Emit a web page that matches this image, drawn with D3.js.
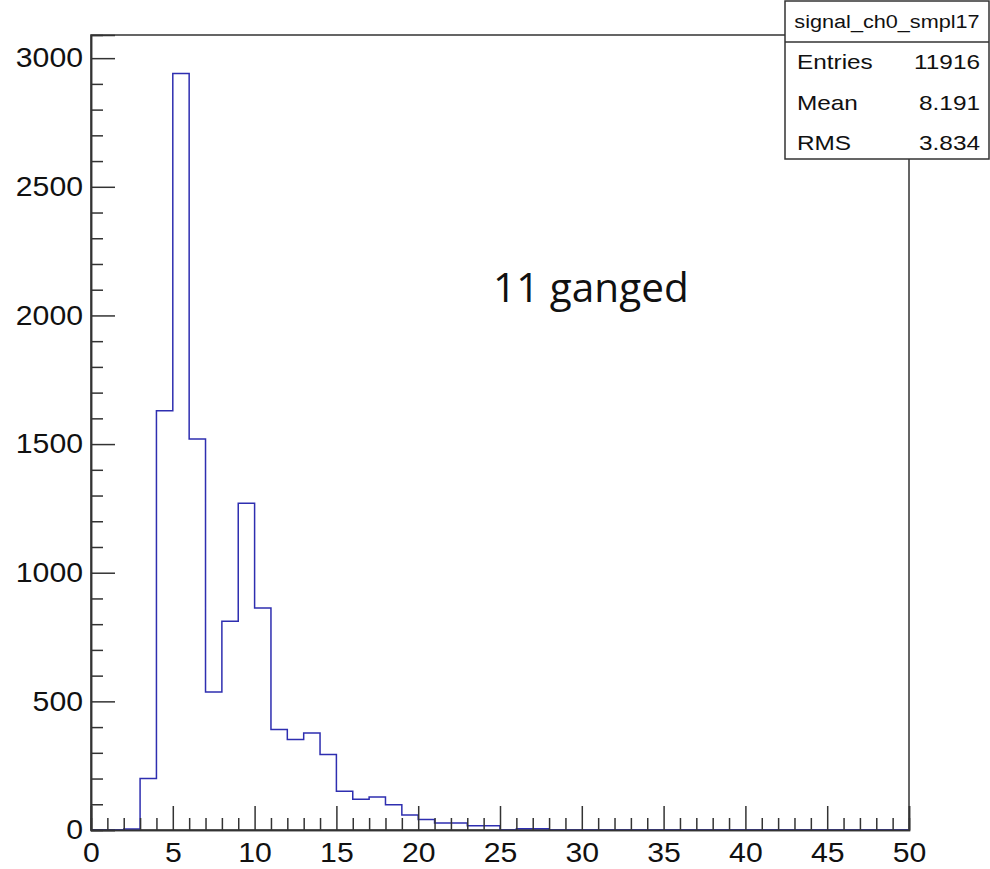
<!DOCTYPE html>
<meta charset="utf-8">
<html>
<head>
    <title>signal_ch0_smpl17</title>
    <style>
        body { margin: 0; background: #fff; }
        svg { display: block; }
        .axis text { font-family: "Liberation Sans", Arial, sans-serif; fill: #111; }
        .axis path, .axis line { stroke: #333; stroke-width: 1.5; }
        .stats text { font-family: "Liberation Sans", Arial, sans-serif; fill: #111; }
    </style>
    <script src="https://d3js.org/d3.v7.min.js"></script>
</head>
<body>
    <div id="chart"></div>
    <script>
        // histogram bins (lower edge) and counts
        var binLow = [0, 1, 2, 3, 4, 5, 6, 7, 8, 9,
            10, 11, 12, 13, 14, 15, 16, 17, 18, 19,
            20, 21, 22, 23, 24, 25, 26, 27, 28, 29,
            30, 31, 32, 33, 34, 35, 36, 37, 38, 39,
            40, 41, 42, 43, 44, 45, 46, 47, 48, 49];
        var counts = [0, 0, 4, 200, 1630, 2940, 1520, 536, 811, 1270,
            863, 391, 352, 377, 293, 151, 120, 128, 98, 58,
            41, 27, 27, 17, 17, 0, 5, 5, 0, 0,
            0, 0, 0, 0, 0, 0, 0, 0, 0, 0,
            0, 0, 0, 0, 0, 0, 0, 0, 0, 0];
        var binWidth = 1;

        var xMajor = [0, 5, 10, 15, 20, 25, 30, 35, 40, 45, 50];
        var xMinor = [1, 2, 3, 4, 6, 7, 8, 9, 11, 12, 13, 14, 16, 17, 18, 19,
            21, 22, 23, 24, 26, 27, 28, 29, 31, 32, 33, 34, 36, 37, 38, 39,
            41, 42, 43, 44, 46, 47, 48, 49];
        var yMajor = [0, 500, 1000, 1500, 2000, 2500, 3000];
        var yMinor = [100, 200, 300, 400, 600, 700, 800, 900, 1100, 1200, 1300, 1400,
            1600, 1700, 1800, 1900, 2100, 2200, 2300, 2400, 2600, 2700, 2800, 2900];

        var statsTitle = "signal_ch0_smpl17";
        var statsLabels = ["Entries", "Mean", "RMS"];
        var statsValues = ["11916", "8.191", "3.834"];
        var note = "11 ganged";

        var W = 990, H = 869;
        var frameL = 91, frameR = 909, frameT = 35, frameB = 830;
        var stretch = 1.12; // text in the picture is a bit wide

        var svg = d3.select("#chart").append("svg")
            .attr("width", W)
            .attr("height", H);

        var x = d3.scaleLinear().domain([0, 50]).range([frameL, frameR]);
        var y = d3.scaleLinear().domain([0, 3090]).range([frameB, frameT]);

        // frame
        svg.append("rect")
            .attr("x", frameL).attr("y", frameT)
            .attr("width", frameR - frameL).attr("height", frameB - frameT)
            .attr("fill", "none").attr("stroke", "#333").attr("stroke-width", 1.5);

        // histogram outline
        var pts = binLow.map(function (b, i) { return [b, counts[i]]; });
        pts.unshift([0, 0]);
        pts.push([binLow[binLow.length - 1] + binWidth, counts[counts.length - 1]]);
        pts.push([binLow[binLow.length - 1] + binWidth, 0]);
        var line = d3.line()
            .x(function (d) { return x(d[0]); })
            .y(function (d) { return y(d[1]); })
            .curve(d3.curveStepAfter);
        svg.append("path")
            .datum(pts)
            .attr("d", line)
            .attr("fill", "none")
            .attr("stroke", "#2e2eb0")
            .attr("stroke-width", 1.5);

        // axes
        svg.append("g").attr("class", "axis")
            .attr("transform", "translate(0," + frameB + ")")
            .call(d3.axisBottom(x).tickValues(xMajor).tickSize(-24).tickPadding(13).tickFormat(d3.format("d")));
        svg.append("g").attr("class", "axis")
            .attr("transform", "translate(0," + frameB + ")")
            .call(d3.axisBottom(x).tickValues(xMinor).tickSize(-12).tickFormat(""));
        var yAxis = svg.append("g").attr("class", "axis")
            .attr("transform", "translate(" + frameL + ",0)")
            .call(d3.axisLeft(y).tickValues(yMajor).tickSize(-24).tickPadding(8).tickFormat(d3.format("d")));
        svg.append("g").attr("class", "axis")
            .attr("transform", "translate(" + frameL + ",0)")
            .call(d3.axisLeft(y).tickValues(yMinor).tickSize(-12).tickFormat(""));

        svg.selectAll(".axis text")
            .style("font-size", "27px")
            .attr("transform", "scale(" + stretch + ",1)");
        yAxis.selectAll("text").attr("x", -8 / stretch);

        // annotation
        svg.append("text")
            .attr("x", 493).attr("y", 302)
            .style("font-family", "'Open Sans', 'Noto Sans', sans-serif")
            .style("font-size", "40.5px")
            .attr("fill", "#111")
            .text(note);

        // stats box
        var bx0 = 785, bx1 = 989, by0 = 1, byHead = 42, by1 = 159;
        var stats = svg.append("g").attr("class", "stats");
        stats.append("rect")
            .attr("x", bx0).attr("y", by0)
            .attr("width", bx1 - bx0).attr("height", by1 - by0)
            .attr("fill", "#fff").attr("stroke", "#333").attr("stroke-width", 1.5);
        stats.append("line")
            .attr("x1", bx0).attr("x2", bx1).attr("y1", byHead).attr("y2", byHead)
            .attr("stroke", "#333").attr("stroke-width", 1.5);
        stats.append("text")
            .attr("transform", "translate(" + (bx0 + bx1) / 2 + ",28) scale(1.14,1)")
            .attr("text-anchor", "middle")
            .style("font-size", "19px")
            .text(statsTitle);
        var rowY = [69, 110, 150];
        statsLabels.forEach(function (lab, i) {
            stats.append("text")
                .attr("transform", "translate(797," + rowY[i] + ") scale(1.16,1)")
                .style("font-size", "21px")
                .text(lab);
            stats.append("text")
                .attr("transform", "translate(980," + rowY[i] + ") scale(1.16,1)")
                .attr("text-anchor", "end")
                .style("font-size", "21px")
                .text(statsValues[i]);
        });
    </script>
</body>
</html>
